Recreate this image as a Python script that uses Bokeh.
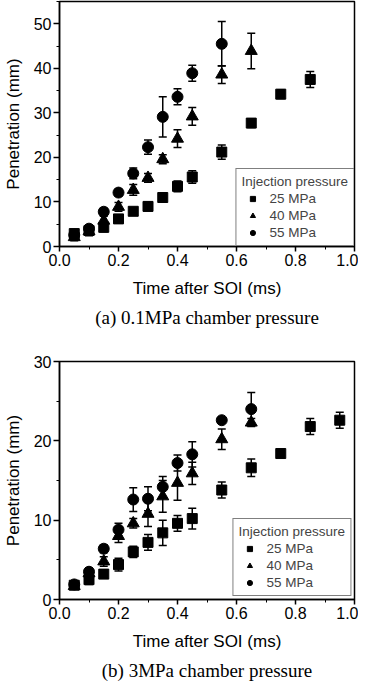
from bokeh.plotting import figure
from bokeh.models import (ColumnDataSource, Whisker, TeeHead, Legend, LegendItem,
                          Range1d, Title, FixedTicker)
from bokeh.layouts import column
from bokeh.embed import file_html
from bokeh.resources import INLINE

# ---------------- data: (a) 0.1 MPa chamber pressure ----------------
a_t25 = [0.05, 0.10, 0.15, 0.20, 0.25, 0.30, 0.35, 0.40, 0.45, 0.55, 0.65, 0.75, 0.85]
a_p25 = [2.9, 3.6, 4.3, 6.2, 7.9, 9.0, 11.0, 13.5, 15.6, 21.2, 27.7, 34.2, 37.5]
a_e25 = [1.0, 1.0, 1.0, 0.8, 0.8, 1.0, 0.8, 1.2, 1.4, 1.6, 1.0, 1.0, 1.8]

a_t40 = [0.05, 0.10, 0.15, 0.20, 0.25, 0.30, 0.35, 0.40, 0.45, 0.55, 0.65]
a_p40 = [2.1, 3.4, 5.8, 8.9, 12.7, 15.4, 19.6, 24.2, 29.2, 38.6, 43.9]
a_e40 = [0.8, 1.0, 1.0, 1.0, 1.2, 1.0, 1.0, 2.0, 2.0, 2.0, 4.0]

a_t55 = [0.05, 0.10, 0.15, 0.20, 0.25, 0.30, 0.35, 0.40, 0.45, 0.55]
a_p55 = [2.6, 4.0, 7.8, 12.1, 16.4, 22.3, 29.1, 33.6, 38.9, 45.5]
a_e55 = [0.6, 0.8, 0.8, 0.8, 1.2, 1.6, 4.5, 1.8, 1.8, 5.0]

# ---------------- data: (b) 3 MPa chamber pressure ----------------
b_t25 = [0.05, 0.10, 0.15, 0.20, 0.25, 0.30, 0.35, 0.40, 0.45, 0.55, 0.65, 0.75, 0.85, 0.95]
b_p25 = [1.8, 2.5, 3.2, 4.4, 6.0, 7.2, 8.4, 9.6, 10.2, 13.8, 16.6, 18.4, 21.8, 22.6]
b_e25 = [0.4, 0.6, 0.5, 0.8, 0.7, 1.0, 1.6, 1.0, 1.3, 1.0, 1.1, 0.4, 1.0, 1.0]

b_t40 = [0.05, 0.10, 0.15, 0.20, 0.25, 0.30, 0.35, 0.40, 0.45, 0.55, 0.65]
b_p40 = [1.7, 3.3, 4.8, 8.0, 9.6, 10.8, 13.0, 14.7, 15.9, 20.2, 22.3]
b_e40 = [0.3, 0.6, 0.6, 0.8, 0.6, 1.6, 2.0, 2.2, 1.4, 1.3, 0.5]

b_t55 = [0.05, 0.10, 0.15, 0.20, 0.25, 0.30, 0.35, 0.40, 0.45, 0.55, 0.65]
b_p55 = [1.9, 3.5, 6.4, 8.8, 12.6, 12.7, 14.2, 17.2, 18.3, 22.6, 24.0]
b_e55 = [0.3, 0.5, 0.5, 0.8, 1.5, 1.5, 1.3, 1.0, 1.6, 0.3, 2.1]

series_labels = ["25 MPa", "40 MPa", "55 MPa"]
legend_title = "Injection pressure"
x_title = "Time after SOI (ms)"
y_title = "Penetration (mm)"
caption_a = "(a) 0.1MPa chamber pressure"
caption_b = "(b) 3MPa chamber pressure"
x_ticks = [0.0, 0.2, 0.4, 0.6, 0.8, 1.0]
x_minor = [0.1, 0.3, 0.5, 0.7, 0.9]
a_y_ticks = [0, 10, 20, 30, 40, 50]
a_y_minor = [5, 15, 25, 35, 45, 55]
b_y_ticks = [0, 10, 20, 30]
b_y_minor = [5, 15, 25]

SANS = "Liberation Sans"
SERIF = "Liberation Serif"


def make_panel(series, ymax, yticks, yminor, caption, height, border_top,
               border_bottom, border_left, legend_margin):
    p = figure(width=358, height=height, output_backend="svg", toolbar_location=None,
               x_range=Range1d(0, 1.0), y_range=Range1d(0, ymax),
               min_border_top=border_top, min_border_bottom=border_bottom,
               min_border_left=border_left, min_border_right=4)
    p.grid.visible = False
    p.outline_line_color = "black"
    p.outline_line_width = 1.5
    p.background_fill_color = "white"

    for ax in (p.xaxis[0], p.yaxis[0]):
        ax.axis_line_width = 1.5
        ax.major_tick_line_width = 1.5
        ax.minor_tick_line_width = 1
        ax.major_tick_in = 0
        ax.minor_tick_in = 0
        ax.major_label_text_font = SANS
        ax.major_label_text_font_size = "16px"
        ax.major_label_text_color = "black"
        ax.axis_label_text_font = SANS
        ax.axis_label_text_font_size = "17px"
        ax.axis_label_text_font_style = "normal"
        ax.axis_label_text_color = "black"

    p.xaxis.ticker = FixedTicker(ticks=x_ticks, minor_ticks=x_minor)
    p.xaxis.major_label_overrides = {v: f"{v:.1f}" for v in x_ticks}
    p.xaxis.major_tick_out = 5
    p.xaxis.minor_tick_out = 3
    p.xaxis.major_label_standoff = 2
    p.xaxis.axis_label = x_title
    p.xaxis.axis_label_standoff = 10

    p.yaxis.ticker = FixedTicker(ticks=yticks, minor_ticks=yminor)
    p.yaxis.major_tick_out = 6
    p.yaxis.minor_tick_out = 3
    p.yaxis.major_label_standoff = 2
    p.yaxis.axis_label = y_title
    p.yaxis.axis_label_standoff = 8

    markers = ["square", "triangle", "circle"]
    sizes = [10, 12, 11]
    items = []
    for (t, v, e), lab, mk, sz in zip(series, series_labels, markers, sizes):
        src = ColumnDataSource(dict(x=t, y=v,
                                    lo=[a - b for a, b in zip(v, e)],
                                    hi=[a + b for a, b in zip(v, e)]))
        w = Whisker(source=src, base="x", lower="lo", upper="hi",
                    line_color="black", line_width=1.5,
                    upper_head=TeeHead(size=8, line_color="black", line_width=1.5),
                    lower_head=TeeHead(size=8, line_color="black", line_width=1.5))
        p.add_layout(w)
        r = p.scatter("x", "y", source=src, marker=mk, size=sz,
                      fill_color="black", line_color="black")
        items.append(LegendItem(label=lab, renderers=[r]))

    leg = Legend(items=items, location="bottom_right", title=legend_title,
                 title_text_font=SANS, title_text_font_size="13.5px",
                 title_text_font_style="normal", title_standoff=2,
                 label_text_font=SANS, label_text_font_size="13.5px",
                 label_height=13, glyph_height=13, glyph_width=22,
                 label_standoff=6, spacing=2, padding=5, margin=legend_margin,
                 border_line_color="black", border_line_width=1.5,
                 background_fill_alpha=1.0)
    p.add_layout(leg, "center")

    cap = Title(text=caption, align="center", text_font=SERIF,
                text_font_size="19px", text_font_style="normal",
                text_color="black", standoff=8)
    p.add_layout(cap, "below")
    return p


pa = make_panel([(a_t25, a_p25, a_e25), (a_t40, a_p40, a_e40), (a_t55, a_p55, a_e55)],
                55, a_y_ticks, a_y_minor, caption_a, 337, 1, 91, 54, 0)
pb = make_panel([(b_t25, b_p25, b_e25), (b_t40, b_p40, b_e40), (b_t55, b_p55, b_e55)],
                30, b_y_ticks, b_y_minor, caption_b, 347, 24, 78, 51, 3)

layout = column(pa, pb, spacing=0)
open("out.html", "w").write(file_html(layout, INLINE))
